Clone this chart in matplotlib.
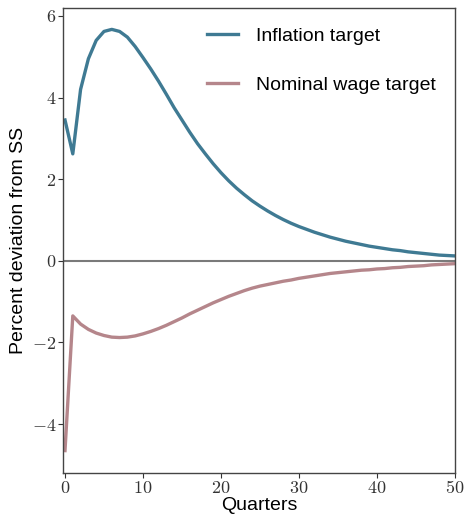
import numpy as np
import matplotlib.pyplot as plt
from matplotlib.ticker import FuncFormatter

plt.rcParams['mathtext.fontset'] = 'cm'
plt.rcParams['font.family'] = ['Liberation Sans', 'DejaVu Sans']

quarters = np.arange(51)

inflation_target = [
    3.45, 2.62, 4.20, 4.95, 5.40, 5.62, 5.67, 5.62, 5.48, 5.25,
    4.98, 4.70, 4.40, 4.08, 3.75, 3.45, 3.15, 2.87, 2.62, 2.38,
    2.16, 1.96, 1.78, 1.62, 1.47, 1.34, 1.22, 1.11, 1.01, 0.92,
    0.84, 0.77, 0.70, 0.64, 0.58, 0.53, 0.48, 0.44, 0.40, 0.36,
    0.33, 0.30, 0.27, 0.25, 0.22, 0.20, 0.18, 0.16, 0.14, 0.13,
    0.12,
]

wage_target = [
    -4.65, -1.35, -1.55, -1.68, -1.77, -1.83, -1.87, -1.88, -1.87, -1.84,
    -1.79, -1.73, -1.66, -1.58, -1.49, -1.40, -1.30, -1.21, -1.12, -1.03,
    -0.95, -0.87, -0.80, -0.73, -0.67, -0.62, -0.58, -0.54, -0.50, -0.47,
    -0.43, -0.40, -0.37, -0.34, -0.31, -0.29, -0.27, -0.25, -0.23, -0.22,
    -0.20, -0.19, -0.17, -0.16, -0.14, -0.13, -0.12, -0.10, -0.09, -0.08,
    -0.07,
]

fig = plt.figure(figsize=(4.67, 5.17), dpi=100)
ax = fig.add_axes([0.135, 0.085, 0.839, 0.9])

ax.axhline(0, color='#7a7a7a', lw=1.5, zorder=1)
ax.plot(quarters, inflation_target, color='#3f7a93', lw=2.4, label='Inflation target')
ax.plot(quarters, wage_target, color='#b5868b', lw=2.4, label='Nominal wage target')

ax.set_xlim(-0.25, 50)
ax.set_ylim(-5.2, 6.2)
ax.set_xticks([0, 10, 20, 30, 40, 50])
ax.set_yticks([-4, -2, 0, 2, 4, 6])
fmt = FuncFormatter(lambda v, p: r'$%d$' % v)
ax.xaxis.set_major_formatter(fmt)
ax.yaxis.set_major_formatter(fmt)
ax.tick_params(labelsize=13, colors='#333333', length=3.5, pad=1.5)

for s in ax.spines.values():
    s.set_color('#444444')
    s.set_linewidth(1.0)

ax.set_xlabel('Quarters', fontsize=14, labelpad=0)
ax.set_ylabel('Percent deviation from SS', fontsize=14, labelpad=3)

ax.legend(loc='upper right', frameon=False, fontsize=14, handlelength=1.6,
          handletextpad=0.9, labelspacing=1.6, borderaxespad=0.6)

fig.savefig('out.png', dpi=100)
